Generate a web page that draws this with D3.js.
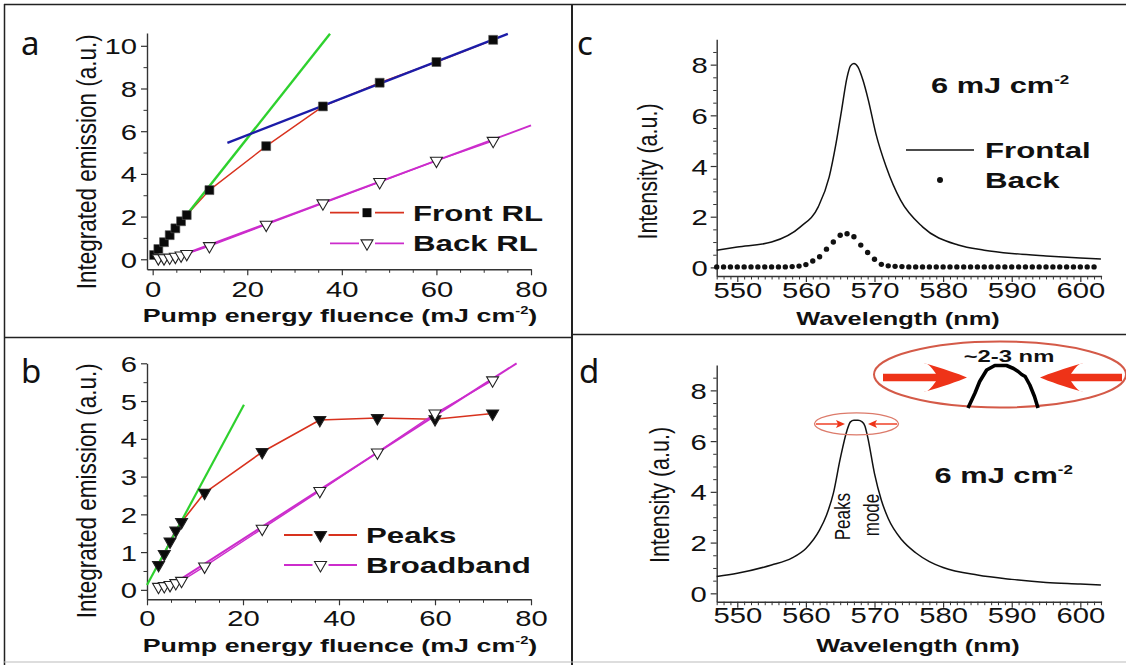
<!DOCTYPE html>
<html>
<head>
<meta charset="utf-8">
<script src="https://cdn.jsdelivr.net/npm/d3@7"></script>
<style>
  body { margin: 0; background: #fff; }
  svg { display: block; }
</style>
</head>
<body>
<div class="chart"></div>
<script>
// ---- panel a: integrated emission vs pump fluence ----
var frontX = [0.3, 1.2, 2.4, 3.6, 4.8, 6.0, 7.2, 12, 24, 36, 48, 60, 72];
var frontY = [0.2, 0.48, 0.8, 1.13, 1.45, 1.78, 2.07, 3.24, 5.3, 7.16, 8.27, 9.24, 10.28];
var backX = [1.2, 2.4, 3.6, 4.8, 6.0, 7.2, 12, 24, 36, 48, 60, 72];
var backY = [0.05, 0.05, 0.08, 0.12, 0.18, 0.25, 0.62, 1.62, 2.62, 3.62, 4.62, 5.55];
var greenAX = [1.0, 37.5], greenAY = [0.35, 10.56];
var blueAX = [15.8, 75.1], blueAY = [5.45, 10.56];
var fitAX = [7.2, 80], fitAY = [0.28, 6.27];

// ---- panel b ----
var peaksX = [2.4, 3.6, 4.8, 6.0, 7.2, 12, 24, 36, 48, 60, 72];
var peaksY = [0.66, 0.95, 1.28, 1.57, 1.8, 2.57, 3.65, 4.5, 4.55, 4.52, 4.67];
var broadX = [2.4, 3.6, 4.8, 6.0, 7.2, 12, 24, 36, 48, 60, 72];
var broadY = [0.08, 0.1, 0.13, 0.18, 0.24, 0.62, 1.62, 2.62, 3.64, 4.67, 5.55];
var greenBX = [0, 20.2], greenBY = [0.13, 4.9];
var fitBX = [6.7, 77], fitBY = [0.26, 6.0];

// ---- panel c: spectra ----
var wlC = [547, 550, 555, 559.2, 561.8, 563.4, 564.4, 565.2, 566.0, 566.5, 567, 567.6, 568.3, 569.1, 570.2, 571.7, 573.8, 577, 582.2, 586, 590, 595, 600, 603];
var frontalC = [0.68, 0.8, 1.0, 1.6, 2.39, 3.57, 4.9, 6.2, 7.5, 7.95, 8.05, 7.9, 7.4, 6.6, 5.28, 3.97, 2.65, 1.6, 0.88, 0.68, 0.55, 0.45, 0.37, 0.33];
var wlBack = [547, 548, 549, 550, 551, 552, 553, 554, 555, 556, 557, 558, 559, 560, 561, 562, 563, 564, 565, 566, 567, 568, 569, 570, 571, 572, 573, 574, 575, 576, 577, 578, 579, 580, 581, 582, 583, 584, 585, 586, 587, 588, 589, 590, 591, 592, 593, 594, 595, 596, 597, 598, 599, 600, 601, 602];
var backC = [0.02, 0.02, 0.02, 0.02, 0.02, 0.02, 0.02, 0.02, 0.02, 0.02, 0.02, 0.03, 0.05, 0.11, 0.25, 0.42, 0.72, 1.0, 1.27, 1.33, 1.21, 0.88, 0.59, 0.32, 0.12, 0.06, 0.04, 0.03, 0.02, 0.02, 0.02, 0.02, 0.02, 0.02, 0.02, 0.02, 0.02, 0.02, 0.02, 0.02, 0.02, 0.02, 0.02, 0.02, 0.02, 0.02, 0.02, 0.02, 0.02, 0.02, 0.02, 0.02, 0.02, 0.02, 0.02, 0.02];

// ---- panel d ----
var wlD = [547, 550, 555, 558, 560, 562, 563, 564, 565, 566, 566.5, 567, 567.6, 568.2, 568.6, 569, 570, 571, 572, 574, 576, 578, 580, 585, 590, 595, 600, 603];
var peakD = [0.66, 0.79, 1.12, 1.4, 1.77, 2.5, 3.08, 3.94, 5.3, 6.43, 6.76, 6.82, 6.82, 6.76, 6.6, 6.17, 4.72, 3.67, 2.95, 2.1, 1.6, 1.25, 1.02, 0.72, 0.55, 0.43, 0.37, 0.33];
// magnified top of the peak (inset)
var insetWl = [566.0, 566.3, 566.5, 566.8, 567.15, 567.65, 567.95, 568.15, 568.3, 568.45, 568.65, 568.85, 569.0];
var insetI = [6.0, 6.3, 6.53, 6.76, 6.85, 6.85, 6.79, 6.73, 6.67, 6.63, 6.46, 6.23, 6.0];

var fluenceTicks = [0, 20, 40, 60, 80];
var fluenceMinor = [5, 10, 15, 25, 30, 35, 45, 50, 55, 65, 70, 75];
var wlTicks = [550, 560, 570, 580, 590, 600];

var W = 1126, H = 665;
var RED = '#d8321e', MAG = '#cc2ccc', GREEN = '#2ed12e', BLUE = '#1c1ca8';
var FONT = 'Liberation Sans, Arial, sans-serif';

var svg = d3.select('.chart').append('svg')
  .attr('width', W).attr('height', H);

// frame and panel dividers
var frame = svg.append('g').attr('stroke', '#222').attr('fill', 'none');
frame.append('line').attr('x1', 4).attr('x2', W).attr('y1', 4.5).attr('y2', 4.5).attr('stroke-width', 1.5);
frame.append('line').attr('x1', 4.5).attr('x2', 4.5).attr('y1', 4).attr('y2', H).attr('stroke-width', 1.5);
frame.append('line').attr('x1', 572).attr('x2', 572).attr('y1', 4).attr('y2', H).attr('stroke-width', 2);
frame.append('line').attr('x1', 4).attr('x2', 572).attr('y1', 337.5).attr('y2', 337.5).attr('stroke-width', 1.5);
frame.append('line').attr('x1', 572).attr('x2', W).attr('y1', 334.5).attr('y2', 334.5).attr('stroke-width', 1.5);
frame.append('line').attr('x1', 4).attr('x2', W).attr('y1', 662).attr('y2', 662).attr('stroke', '#bbb');

// text that is stretched sideways like in the figure
function stext(g, x, y, parts, o) {
  var t = g.append('text')
    .attr('transform', `translate(${x},${y}) scale(${o.sx || 1},1)` + (o.rot ? ' rotate(-90)' : ''))
    .attr('text-anchor', o.anchor || 'start')
    .attr('font-family', o.font || FONT)
    .attr('font-size', o.size)
    .attr('font-weight', o.bold ? 'bold' : 'normal')
    .attr('fill', '#111');
  t.append('tspan').text(parts[0]);
  if (parts.length > 1) {
    t.append('tspan').attr('font-size', o.size * 0.55).attr('dy', -o.size * 0.42).text(parts[1]);
    if (parts[2]) t.append('tspan').attr('dy', o.size * 0.42).text(parts[2]);
  }
  return t;
}

function axes(g, x, y, o) {
  var y0 = y.range()[0], x0 = x.range()[0];
  g.append('g').attr('transform', `translate(0,${y0})`)
    .call(d3.axisBottom(x).tickValues(o.xMinor).tickSize(3.5).tickSizeOuter(0).tickFormat(''))
    .call(s => s.select('.domain').remove());
  g.append('g').attr('transform', `translate(${x0},0)`)
    .call(d3.axisLeft(y).tickValues(o.yMinor).tickSize(3.5).tickSizeOuter(0).tickFormat(''))
    .call(s => s.select('.domain').remove());
  var xa = g.append('g').attr('transform', `translate(0,${y0})`)
    .call(d3.axisBottom(x).tickValues(o.xTicks).tickSize(6).tickSizeOuter(0));
  var ya = g.append('g').attr('transform', `translate(${x0},0)`)
    .call(d3.axisLeft(y).tickValues(o.yTicks).tickSize(6).tickSizeOuter(0).tickFormat(d3.format('d')));
  [xa, ya].forEach(a => {
    a.select('.domain').attr('stroke', '#333').attr('stroke-width', 1.4);
    a.selectAll('.tick line').attr('stroke', '#333').attr('stroke-width', 1.2);
    a.selectAll('.tick text').attr('font-family', FONT).attr('font-size', 22.5).attr('fill', '#111')
      .attr('transform', 'scale(1.3,1)');
  });
  g.selectAll('.tick line').attr('stroke', '#333');
  xa.selectAll('.tick text').attr('y', o.xLab).attr('dy', 0);
  ya.selectAll('.tick text').attr('x', -o.yGap / 1.3).attr('dy', '0.36em');
}

function path(g, xs, ys, x, y, color, w, curve) {
  return g.append('path').datum(d3.zip(xs, ys))
    .attr('d', d3.line().x(d => x(d[0])).y(d => y(d[1])).curve(curve || d3.curveLinear))
    .attr('fill', 'none').attr('stroke', color).attr('stroke-width', w)
    .attr('stroke-linejoin', 'round');
}

var square = d3.symbol(d3.symbolSquare, 80);
var tri = d3.symbol(d3.symbolTriangle, 62);

function squares(g, xs, ys, x, y) {
  g.selectAll(null).data(d3.zip(xs, ys)).enter().append('path')
    .attr('d', square).attr('transform', d => `translate(${x(d[0])},${y(d[1])})`)
    .attr('fill', '#0a0a0a').attr('stroke', '#555').attr('stroke-width', 0.6);
}
function triangles(g, xs, ys, x, y, filled) {
  g.selectAll(null).data(d3.zip(xs, ys)).enter().append('path')
    .attr('d', tri).attr('transform', d => `translate(${x(d[0])},${y(d[1])}) rotate(180)`)
    .attr('fill', filled ? '#0a0a0a' : '#fff').attr('stroke', '#222').attr('stroke-width', 1.1);
}

function legendRow(g, x1, x2, y, color, marker, label, ty) {
  g.append('line').attr('x1', x1).attr('x2', x2).attr('y1', y).attr('y2', y)
    .attr('stroke', color).attr('stroke-width', 1.8);
  var mx = (x1 + x2) / 2;
  g.append('rect').attr('x', mx - 8).attr('y', y - 6).attr('width', 16).attr('height', 12).attr('fill', '#fff');
  var m = g.append('path').attr('transform', `translate(${mx},${y})` + (marker == 'sq' ? '' : ' rotate(180)'));
  if (marker == 'sq') m.attr('d', square).attr('fill', '#0a0a0a');
  else m.attr('d', tri).attr('fill', marker == 'tf' ? '#0a0a0a' : '#fff').attr('stroke', '#222').attr('stroke-width', 1.1);
  stext(g, x2 + 9, ty, [label], {size: 22, bold: true, sx: 1.42});
}

// ================= panel a =================
var xA = d3.scaleLinear().domain([-1.2, 80]).range([147, 531]);
var yA = d3.scaleLinear().domain([-0.47, 10.6]).range([269.3, 33]);
var gA = svg.append('g');
axes(gA, xA, yA, {xTicks: fluenceTicks, xMinor: fluenceMinor, yTicks: [0, 2, 4, 6, 8, 10],
  yMinor: [1, 3, 5, 7, 9], xLab: 27.4, yGap: 10});
path(gA, frontX, frontY, xA, yA, RED, 1.4);
path(gA, backX, backY, xA, yA, MAG, 1.4);
path(gA, fitAX, fitAY, xA, yA, MAG, 2);
path(gA, greenAX, greenAY, xA, yA, GREEN, 2.4);
path(gA, blueAX, blueAY, xA, yA, BLUE, 2.4);
squares(gA, frontX, frontY, xA, yA);
triangles(gA, backX, backY, xA, yA, false);
legendRow(gA, 330, 404, 212.7, RED, 'sq', 'Front RL', 221);
legendRow(gA, 330, 404, 243.3, MAG, 'to', 'Back RL', 251);
stext(gA, 96, 161.7, ['Integrated emission (a.u.)'], {size: 22.5, rot: true, anchor: 'middle', sx: 1.25});
stext(gA, 340, 322, ['Pump energy fluence (mJ cm', '-2', ')'], {size: 18.5, bold: true, anchor: 'middle', sx: 1.45});
stext(gA, 21, 55, ['a'], {size: 33, font: 'Noto Sans, sans-serif'});

// ================= panel b =================
var xB = d3.scaleLinear().domain([0, 80]).range([147, 531]);
var yB = d3.scaleLinear().domain([-0.25, 6]).range([599.3, 363.3]);
var gB = svg.append('g');
axes(gB, xB, yB, {xTicks: fluenceTicks, xMinor: fluenceMinor, yTicks: [0, 1, 2, 3, 4, 5, 6],
  yMinor: [0.5, 1.5, 2.5, 3.5, 4.5, 5.5], xLab: 27, yGap: 10});
path(gB, peaksX, peaksY, xB, yB, RED, 1.6);
path(gB, peaksX.slice(0, 5), peaksY.slice(0, 5), xB, yB, MAG, 2);
path(gB, broadX, broadY, xB, yB, MAG, 1.4);
path(gB, fitBX, fitBY, xB, yB, MAG, 2);
path(gB, greenBX, greenBY, xB, yB, GREEN, 2.2);
triangles(gB, peaksX, peaksY, xB, yB, true);
triangles(gB, broadX, broadY, xB, yB, false);
legendRow(gB, 284, 357, 535, RED, 'tf', 'Peaks', 543.3);
legendRow(gB, 284, 357, 565, MAG, 'to', 'Broadband', 573.3);
stext(gB, 96, 490.7, ['Integrated emission (a.u.)'], {size: 22.5, rot: true, anchor: 'middle', sx: 1.25});
stext(gB, 340, 651.5, ['Pump energy fluence (mJ cm', '-2', ')'], {size: 18.5, bold: true, anchor: 'middle', sx: 1.45});
stext(gB, 21, 383, ['b'], {size: 33, font: 'Noto Sans, sans-serif'});

// ================= panel c =================
var wlMinor = d3.range(547, 604).filter(v => v % 10 != 0);
var xC = d3.scaleLinear().domain([547, 603.1]).range([716.7, 1101.6]);
var yC = d3.scaleLinear().domain([-0.34, 9]).range([276, 39.3]);
var gC = svg.append('g');
axes(gC, xC, yC, {xTicks: wlTicks, xMinor: wlMinor, yTicks: [0, 2, 4, 6, 8],
  yMinor: [0.5, 1, 1.5, 2.5, 3, 3.5, 4.5, 5, 5.5, 6.5, 7, 7.5, 8.5], xLab: 22.3, yGap: 9});
path(gC, wlC, frontalC, xC, yC, '#111', 1.5, d3.curveMonotoneX);
gC.selectAll(null).data(d3.zip(wlBack, backC)).enter().append('circle')
  .attr('cx', d => xC(d[0])).attr('cy', d => yC(d[1])).attr('r', 2.7).attr('fill', '#111');
gC.append('line').attr('x1', 906).attr('x2', 974).attr('y1', 150).attr('y2', 150).attr('stroke', '#111').attr('stroke-width', 1.3);
stext(gC, 985, 158, ['Frontal'], {size: 22, bold: true, sx: 1.42});
gC.append('circle').attr('cx', 940).attr('cy', 180).attr('r', 3).attr('fill', '#111');
stext(gC, 985, 188.3, ['Back'], {size: 22, bold: true, sx: 1.42});
stext(gC, 931, 93.3, ['6 mJ cm', '-2'], {size: 22, bold: true, sx: 1.4});
stext(gC, 657, 171.5, ['Intensity (a.u.)'], {size: 21.5, rot: true, anchor: 'middle', sx: 1.25});
stext(gC, 898, 325, ['Wavelength (nm)'], {size: 17.5, bold: true, anchor: 'middle', sx: 1.45});
stext(gC, 577, 55, ['c'], {size: 33, font: 'Noto Sans, sans-serif'});

// ================= panel d =================
var xD = d3.scaleLinear().domain([547, 603.1]).range([716.7, 1101.6]);
var yD = d3.scaleLinear().domain([-0.33, 9]).range([601.7, 365]);
var gD = svg.append('g');
axes(gD, xD, yD, {xTicks: wlTicks, xMinor: wlMinor, yTicks: [0, 2, 4, 6, 8],
  yMinor: [0.5, 1, 1.5, 2.5, 3, 3.5, 4.5, 5, 5.5, 6.5, 7, 7.5, 8.5], xLab: 21.6, yGap: 10});
path(gD, wlD, peakD, xD, yD, '#111', 1.5, d3.curveMonotoneX);
stext(gD, 934.6, 483.3, ['6 mJ cm', '-2'], {size: 22, bold: true, sx: 1.4});
stext(gD, 669, 495, ['Intensity (a.u.)'], {size: 21.5, rot: true, anchor: 'middle', sx: 1.25});
stext(gD, 918, 651.7, ['Wavelength (nm)'], {size: 17.5, bold: true, anchor: 'middle', sx: 1.45});
stext(gD, 850, 516.7, ['Peaks'], {size: 17, rot: true, anchor: 'middle', sx: 1.25});
stext(gD, 879, 515, ['mode'], {size: 17, rot: true, anchor: 'middle', sx: 1.25});
stext(gD, 579, 383, ['d'], {size: 33, font: 'Noto Sans, sans-serif'});

// small ellipse with arrows at the peak top
var ARR = '#ee3318';
gD.append('ellipse').attr('cx', 856.5).attr('cy', 423.8).attr('rx', 42).attr('ry', 11)
  .attr('fill', 'none').attr('stroke', '#dc7a6a').attr('stroke-width', 1.3);
function smallArrow(x1, x2, y) {
  var dir = Math.sign(x2 - x1);
  gD.append('line').attr('x1', x1).attr('x2', x2 - dir * 5).attr('y1', y).attr('y2', y)
    .attr('stroke', ARR).attr('stroke-width', 1.4);
  gD.append('path').attr('d', `M${x2},${y} L${x2 - dir * 9},${y - 4} L${x2 - dir * 7},${y} L${x2 - dir * 9},${y + 4} Z`)
    .attr('fill', ARR);
}
smallArrow(816, 845, 424);
smallArrow(897, 868, 424);

// big inset ellipse
gD.append('ellipse').attr('cx', 1000).attr('cy', 374.5).attr('rx', 126).attr('ry', 33)
  .attr('fill', '#fff').attr('stroke', '#d45a48').attr('stroke-width', 2);
function bigArrow(x0, tip, y) {
  var d = Math.sign(tip - x0), hb = tip - d * 37, h = 3.8, H2 = 14.5;
  gD.append('path').attr('d',
    `M${x0},${y - h} L${hb + d * 6},${y - h} Q${hb - d * 2},${y - H2 - 1} ${hb - d * 6},${y - H2}` +
    ` Q${tip - d * 14},${y - 6} ${tip},${y} Q${tip - d * 14},${y + 6} ${hb - d * 6},${y + H2}` +
    ` Q${hb - d * 2},${y + H2 + 1} ${hb + d * 6},${y + h} L${x0},${y + h} Z`)
    .attr('fill', ARR);
}
bigArrow(883, 967, 377.5);
bigArrow(1122, 1040, 377.5);
var xI = d3.scaleLinear().domain([566, 569]).range([968, 1038]);
var yI = d3.scaleLinear().domain([6.0, 6.85]).range([408, 365.5]);
path(gD, insetWl, insetI, xI, yI, '#000', 3.6);
stext(gD, 1009, 361.7, ['~2-3 nm'], {size: 17, bold: true, anchor: 'middle', sx: 1.4});
</script>
</body>
</html>
